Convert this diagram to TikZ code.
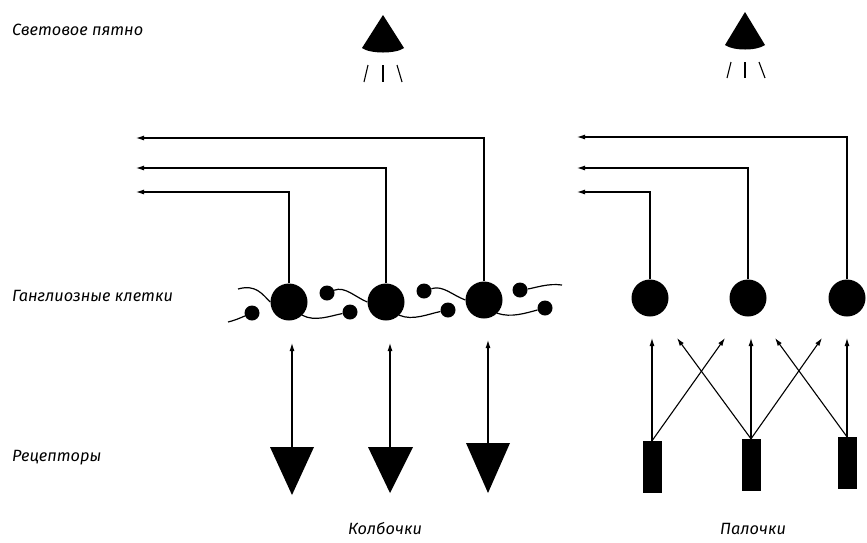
\documentclass[tikz,border=0pt]{standalone}
\usepackage{fontspec}
\setmainfont{Fira Sans}
\usetikzlibrary{arrows.meta}
\begin{document}
\begin{tikzpicture}[x=1pt,y=-1pt,
  lw/.style={line width=1.1pt},
  big/.style={circle,fill=black,inner sep=0pt,minimum size=37pt},
  small/.style={circle,fill=black,inner sep=0pt,minimum size=15pt},
  rod/.style={rectangle,fill=black,inner sep=0pt,minimum width=19pt,minimum height=52pt},
  sig/.style={lw,-{Latex[length=8pt,width=5pt]}},
  wave/.style={line width=1.2pt},
  lab/.style={anchor=base west,inner sep=0pt,font=\fontsize{16.3}{19}\selectfont\itshape}]
\useasboundingbox (0,0) rectangle (867,542);
% labels
\node[lab] (t1) at (12,35) {Световое пятно};
\node[lab] (t2) at (12,301) {Ганглиозные клетки};
\node[lab] (t3) at (12,461) {Рецепторы};
\node[lab] (t4) at (348,534) {Колбочки};
\node[lab] (t5) at (720,534) {Палочки};
% lamps
\fill (383,15) -- (362,48) .. controls (370,54) and (396,54) .. (404,48) -- cycle;
\fill (745,12) -- (725,45) .. controls (733,51) and (757,51) .. (765,45) -- cycle;
\draw[lw] (368,65) -- (364,82);
\draw[lw] (383,65) -- (383,82);
\draw[lw] (397,65) -- (402,82);
\draw[lw] (731,62) -- (727,78);
\draw[lw] (745,62) -- (745,78);
\draw[lw] (759,62) -- (765,78);
% ganglion cells left
\node[big] (g1) at (289,302) {};
\node[big] (g2) at (386,302) {};
\node[big] (g3) at (484,300) {};
\node[small] (s1) at (252,313) {};
\node[small] (s2) at (327,293) {};
\node[small] (s3) at (350,312) {};
\node[small] (s4) at (424,291) {};
\node[small] (s5) at (448,310) {};
\node[small] (s6) at (520,290) {};
\node[small] (s7) at (545,308) {};
\coordinate (w0) at (228,322);
\coordinate (w1) at (238,289);
\coordinate (w9) at (562,285);
\draw[wave] (w0) .. controls (236,320) and (240,318) .. (s1);
\draw[wave] (w1) .. controls (256,284) and (262,294) .. (g1.west);
\draw[wave] (g1.south east) .. controls (315,322) and (330,316) .. (s3);
\draw[wave] (s2) .. controls (345,286) and (355,297) .. (g2.west);
\draw[wave] (g2.south east) .. controls (413,321) and (428,314) .. (s5);
\draw[wave] (s4) .. controls (443,285) and (452,295) .. (g3.west);
\draw[wave] (g3.south east) .. controls (511,318) and (526,313) .. (s7);
\draw[wave] (s6) .. controls (535,288) and (548,283) .. (w9);
% ganglion cells right
\node[big] (h1) at (650,298) {};
\node[big] (h2) at (748,298) {};
\node[big] (h3) at (847,298) {};
% outgoing fibres
\coordinate (o1) at (136,192);
\coordinate (o2) at (136,168);
\coordinate (o3) at (136,138);
\coordinate (p1) at (577,192);
\coordinate (p2) at (577,168);
\coordinate (p3) at (577,137);
\draw[sig] (g1.north) |- (o1);
\draw[sig] (g2.north) |- (o2);
\draw[sig] (g3.north) |- (o3);
\draw[sig] (h1.north) |- (p1);
\draw[sig] (h2.north) |- (p2);
\draw[sig] (h3.north) |- (p3);
% cones
\fill (270,447) -- (314,447) -- (292,495) -- cycle;
\fill (368,447) -- (413,447) -- (390,493) -- cycle;
\fill (466,443) -- (510,443) -- (488,493) -- cycle;
\coordinate (c1) at (292,447);
\coordinate (c2) at (390,447);
\coordinate (c3) at (488,443);
\coordinate (e1) at (292,343);
\coordinate (e2) at (390,343);
\coordinate (e3) at (488,340);
\draw[sig] (c1) -- (e1);
\draw[sig] (c2) -- (e2);
\draw[sig] (c3) -- (e3);
% rods
\node[rod] (r1) at (652,467) {};
\node[rod] (r2) at (751,465) {};
\node[rod] (r3) at (847,463) {};
\coordinate (a1) at (652,338);
\coordinate (a2) at (725,338);
\coordinate (a3) at (677,338);
\coordinate (a4) at (751,338);
\coordinate (a5) at (822,338);
\coordinate (a6) at (775,338);
\coordinate (a7) at (847,338);
\draw[sig] (r1.north) -- (a1);
\draw[sig] (r1.north) -- (a2);
\draw[sig] (r2.north) -- (a3);
\draw[sig] (r2.north) -- (a4);
\draw[sig] (r2.north) -- (a5);
\draw[sig] (r3.north) -- (a6);
\draw[sig] (r3.north) -- (a7);
\end{tikzpicture}
\end{document}
